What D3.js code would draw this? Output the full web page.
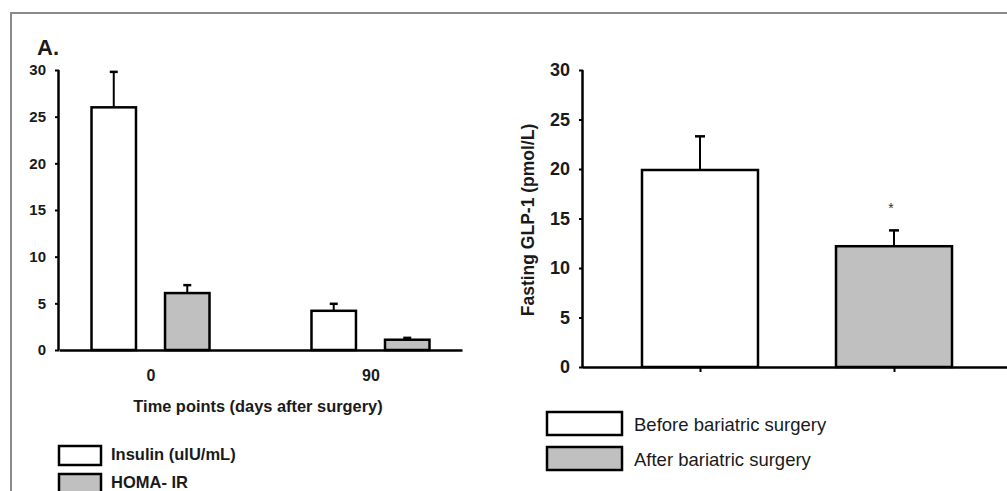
<!DOCTYPE html>
<html>
<head>
<meta charset="utf-8">
<script src="https://cdn.jsdelivr.net/npm/d3@7"></script>
<style>
  body { margin: 0; background: #fff; }
  svg { display: block; font-family: "Liberation Sans", Arial, sans-serif; }
  .tick text { fill: #1a1a1a; }
</style>
</head>
<body>
<svg width="1007" height="491"></svg>
<script>
// panel A: insulin / HOMA-IR by time point
const timePoints = ["0", "90"];
const seriesA = ["Insulin (ulU/mL)", "HOMA- IR"];
const meansA = [[26.0, 6.1], [4.2, 1.1]];
const errA = [[3.8, 0.85], [0.75, 0.2]];

// panel B: fasting GLP-1
const groupsB = ["Before bariatric surgery", "After bariatric surgery"];
const meansB = [19.9, 12.2];
const errB = [3.4, 1.6];

const yTicks = [0, 5, 10, 15, 20, 25, 30];
const fills = ["#ffffff", "#c0c0c0"];

const svg = d3.select("svg");

// gray frame
svg.append("path")
   .attr("d", "M11,500 L11,13 L1007,13")
   .attr("fill", "none")
   .attr("stroke", "#8a8a8a")
   .attr("stroke-width", 2);

svg.append("text")
   .attr("x", 37).attr("y", 55)
   .attr("font-size", 22).attr("font-weight", "bold")
   .attr("fill", "#1a1a1a")
   .text("A.");

// ---- left chart
const xA = d3.scalePoint().domain(timePoints).range([59, 462]).padding(0.416);
const subA = d3.scaleBand().domain(seriesA).range([-59, 59]).paddingInner(0.395);
const yA = d3.scaleLinear().domain([0, 30]).range([350, 70]);

const gA = svg.append("g");

const barsA = timePoints.flatMap((t, i) => seriesA.map((s, j) =>
    ({t, s, j, v: meansA[i][j], e: errA[i][j]})));

gA.selectAll("line.err")
  .data(barsA)
  .join("line")
    .attr("class", "err")
    .attr("x1", d => xA(d.t) + subA(d.s) + subA.bandwidth() / 2)
    .attr("x2", d => xA(d.t) + subA(d.s) + subA.bandwidth() / 2)
    .attr("y1", d => yA(d.v))
    .attr("y2", d => yA(d.v + d.e))
    .attr("stroke", "#000").attr("stroke-width", 2);

gA.selectAll("line.cap")
  .data(barsA)
  .join("line")
    .attr("class", "cap")
    .attr("x1", d => xA(d.t) + subA(d.s) + subA.bandwidth() / 2 - 4)
    .attr("x2", d => xA(d.t) + subA(d.s) + subA.bandwidth() / 2 + 4)
    .attr("y1", d => yA(d.v + d.e))
    .attr("y2", d => yA(d.v + d.e))
    .attr("stroke", "#000").attr("stroke-width", 2.5);

gA.selectAll("rect.bar")
  .data(barsA)
  .join("rect")
    .attr("class", "bar")
    .attr("x", d => xA(d.t) + subA(d.s))
    .attr("width", subA.bandwidth())
    .attr("y", d => yA(d.v))
    .attr("height", d => yA(0) - yA(d.v))
    .attr("fill", d => fills[d.j])
    .attr("stroke", "#000").attr("stroke-width", 2.5);

const axA = gA.append("g")
  .attr("transform", "translate(59,0)")
  .call(d3.axisLeft(yA).tickValues(yTicks).tickSize(4).tickPadding(9));
axA.select(".domain").attr("stroke-width", 2.5).attr("d", `M-0.5,${yA(30)}V${yA(0)}`);
axA.selectAll(".tick line").attr("stroke-width", 2);
axA.selectAll(".tick text").attr("font-size", 15).attr("font-weight", "bold");

const axAx = gA.append("g")
  .attr("transform", `translate(0,${yA(0)})`)
  .call(d3.axisBottom(xA).tickSize(0).tickPadding(20));
axAx.select(".domain").attr("stroke-width", 2.5);
axAx.selectAll(".tick text").attr("font-size", 16).attr("font-weight", "bold");

gA.append("text")
  .attr("x", 258).attr("y", 412)
  .attr("text-anchor", "middle")
  .attr("font-size", 16.4).attr("font-weight", "bold")
  .attr("fill", "#1a1a1a")
  .text("Time points (days after surgery)");

const legA = gA.selectAll("g.leg")
  .data(seriesA)
  .join("g")
    .attr("class", "leg")
    .attr("transform", (d, i) => `translate(59,${446 + i * 28})`);
legA.append("rect")
  .attr("width", 42).attr("height", 19)
  .attr("fill", (d, i) => fills[i])
  .attr("stroke", "#000").attr("stroke-width", 2.5);
legA.append("text")
  .attr("x", 52).attr("y", 14)
  .attr("font-size", 16.5).attr("font-weight", "bold")
  .attr("fill", "#1a1a1a")
  .text(d => d);

// ---- right chart
const xB = d3.scalePoint().domain(groupsB).range([583, 1011]).padding(0.603);
const yB = d3.scaleLinear().domain([0, 30]).range([367, 70]);
const bwB = 116;

const gB = svg.append("g");
const barsB = groupsB.map((g, i) => ({g, i, v: meansB[i], e: errB[i]}));

gB.selectAll("line.err")
  .data(barsB)
  .join("line")
    .attr("class", "err")
    .attr("x1", d => xB(d.g)).attr("x2", d => xB(d.g))
    .attr("y1", d => yB(d.v)).attr("y2", d => yB(d.v + d.e))
    .attr("stroke", "#000").attr("stroke-width", 2);

gB.selectAll("line.cap")
  .data(barsB)
  .join("line")
    .attr("class", "cap")
    .attr("x1", d => xB(d.g) - 5).attr("x2", d => xB(d.g) + 5)
    .attr("y1", d => yB(d.v + d.e)).attr("y2", d => yB(d.v + d.e))
    .attr("stroke", "#000").attr("stroke-width", 2.5);

gB.selectAll("rect.bar")
  .data(barsB)
  .join("rect")
    .attr("class", "bar")
    .attr("x", d => xB(d.g) - bwB / 2)
    .attr("width", bwB)
    .attr("y", d => yB(d.v))
    .attr("height", d => yB(0) - yB(d.v))
    .attr("fill", d => fills[d.i])
    .attr("stroke", "#000").attr("stroke-width", 2.5);

// significance mark
gB.append("text")
  .attr("x", xB(groupsB[1]) - 3).attr("y", yB(meansB[1] + errB[1]) - 17)
  .attr("text-anchor", "middle")
  .attr("font-size", 14).attr("fill", "#333")
  .text("*");

const axB = gB.append("g")
  .attr("transform", "translate(583,0)")
  .call(d3.axisLeft(yB).tickValues(yTicks).tickSize(4).tickPadding(9));
axB.select(".domain").attr("stroke-width", 2.5).attr("d", `M-0.5,${yB(30)}V${yB(0)}`);
axB.selectAll(".tick line").attr("stroke-width", 2);
axB.selectAll(".tick text").attr("font-size", 18).attr("font-weight", "bold");

const axBx = gB.append("g")
  .attr("transform", `translate(0,${yB(0)})`)
  .call(d3.axisBottom(xB).tickSize(5).tickFormat(""));
axBx.select(".domain").attr("stroke-width", 2.5).attr("d", `M583,0.5H1007`);
axBx.selectAll(".tick line").attr("stroke-width", 2);

gB.append("text")
  .attr("transform", "translate(534,220) rotate(-90)")
  .attr("text-anchor", "middle")
  .attr("font-size", 17.5).attr("font-weight", "bold")
  .attr("fill", "#1a1a1a")
  .text("Fasting GLP-1 (pmol/L)");

const legB = gB.selectAll("g.leg")
  .data(groupsB)
  .join("g")
    .attr("class", "leg")
    .attr("transform", (d, i) => `translate(547,${412 + i * 35})`);
legB.append("rect")
  .attr("width", 75).attr("height", 23)
  .attr("fill", (d, i) => fills[i])
  .attr("stroke", "#000").attr("stroke-width", 2.5);
legB.append("text")
  .attr("x", 87).attr("y", 19)
  .attr("font-size", 18.5)
  .attr("fill", "#1a1a1a")
  .text(d => d);
</script>
</body>
</html>
